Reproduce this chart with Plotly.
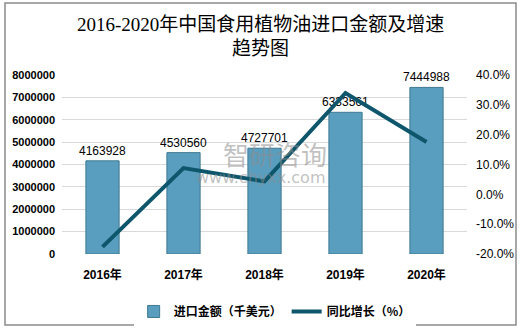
import plotly.graph_objects as go

years = ["2016年", "2017年", "2018年", "2019年", "2020年"]
import_value = [4163928, 4530560, 4727701, 6333561, 7444988]
growth_pct = [-17.6, 8.8, 4.35, 33.97, 17.55]

left_ticks = [0, 1000000, 2000000, 3000000, 4000000, 5000000, 6000000, 7000000, 8000000]
right_ticks = [-20, -10, 0, 10, 20, 30, 40]
right_ticktext = ["-20.0%", "-10.0%", "0.0%", "10.0%", "20.0%", "30.0%", "40.0%"]

axis_font = dict(family="Liberation Sans, Arial, Noto Sans CJK SC", size=11, color="#000000")

fig = go.Figure()
fig.add_trace(go.Bar(
    x=years, y=import_value, name="<b>进口金额（千美元）</b>",
    marker=dict(color="#5a9ebf", line=dict(color="#3f7891", width=1)),
    width=0.41,
    text=[str(v) for v in import_value], textposition="outside",
    textfont=dict(family="Liberation Sans, Arial", size=12, color="#000000"),
    constraintext="none",
    cliponaxis=False,
))
fig.add_trace(go.Scatter(
    x=years, y=growth_pct, name="<b>同比增长（%）</b>", yaxis="y2",
    mode="lines", line=dict(color="#0e566b", width=4),
))

title_font = dict(family="Liberation Serif, Noto Sans CJK SC", size=19, color="#000000")
wm_color = "rgba(140,140,140,0.55)"

fig.update_layout(
    width=521, height=329,
    margin=dict(l=62, r=54, t=75, b=75, autoexpand=False),
    paper_bgcolor="white", plot_bgcolor="white",
    xaxis=dict(showgrid=False, showline=False, zeroline=False, ticks="", automargin=False,
               tickvals=years, ticktext=[f"<b>{y}</b>" for y in years],
               tickfont=dict(family="Liberation Sans, Arial, Noto Sans CJK SC", size=12, color="#000000"),
               ticklabelstandoff=12),
    yaxis=dict(range=[0, 8000000], tickvals=left_ticks, ticktext=[f"<b>{v}</b>" for v in left_ticks],
               showgrid=True, gridcolor="#d9d9d9", gridwidth=1, zeroline=False, showline=False,
               automargin=False, tickfont=axis_font, ticklabelstandoff=6),
    yaxis2=dict(range=[-20, 40], overlaying="y", side="right", tickvals=right_ticks,
                ticktext=right_ticktext, showgrid=False, zeroline=False, showline=False,
                automargin=False,
                tickfont=dict(family="Liberation Sans, Arial", size=12, color="#000000"),
                ticklabelstandoff=8),
    legend=dict(orientation="h", x=0.525, xanchor="center", y=-0.24, yanchor="top",
                font=dict(family="Noto Sans CJK SC", size=12, color="#000000"),
                itemwidth=30),
    showlegend=True,
    annotations=[
        dict(text="2016-2020年中国食用植物油进口金额及增速", xref="paper", yref="paper",
             x=(260 - 62) / 405, y=1 + (75 - 25) / 179, xanchor="center", yanchor="middle",
             showarrow=False, font=title_font),
        dict(text="趋势图", xref="paper", yref="paper",
             x=(260 - 62) / 405, y=1 + (75 - 48) / 179, xanchor="center", yanchor="middle",
             showarrow=False, font=title_font),
        dict(text="智研咨询", xref="paper", yref="paper",
             x=(275 - 62) / 405, y=(254 - 153) / 179, xanchor="center", yanchor="middle",
             showarrow=False, font=dict(family="Noto Sans CJK SC", size=26, color=wm_color)),
        dict(text="www.chyxx.com", xref="paper", yref="paper",
             x=(260 - 62) / 405, y=(254 - 177) / 179, xanchor="center", yanchor="middle",
             showarrow=False, font=dict(family="DejaVu Sans", size=16, color=wm_color)),
    ],
    shapes=[dict(type="rect", xref="paper", yref="paper",
                 x0=-57 / 405, x1=1 + 49 / 405, y0=-71 / 179, y1=1 + 72 / 179,
                 line=dict(color="#8c8c8c", width=1.5))],
)

fig.write_html("out.html")
